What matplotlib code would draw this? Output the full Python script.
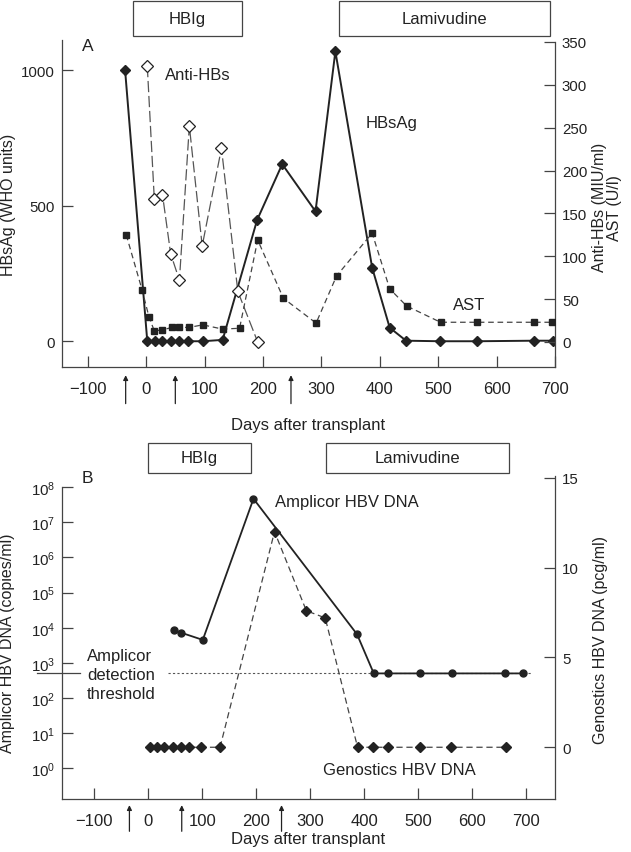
"""Two-panel time course after transplant: HBsAg / anti-HBs / AST and HBV DNA."""

import matplotlib

matplotlib.use("Agg")
import matplotlib.pyplot as plt
import matplotlib.transforms as mtransforms
from matplotlib.patches import Rectangle

plt.rcParams["font.family"] = ["Liberation Sans", "DejaVu Sans"]
plt.rcParams["mathtext.default"] = "regular"

FIG_W, FIG_H = 631, 853
INK = "#222222"
AXIS_GREY = "#444444"

# ---- panel A data (days after transplant) ----
HBSAG_DAYS = [-36, 2, 15, 28, 43, 57, 72, 97, 131, 190, 233, 290, 324, 387, 417, 445, 503, 567, 664, 697]
HBSAG = [1000, 0, 0, 0, 0, 0, 0, 0, 5, 447, 653, 479, 1069, 271, 50, 2, 0, 0, 2, 2]

ANTI_HBS_DAYS = [2, 14, 28, 42, 57, 74, 96, 129, 157, 191]
ANTI_HBS = [322, 167, 172, 103, 72, 252, 112, 226, 59, 0]

AST_DAYS = [-34, -7, 5, 14, 28, 44, 57, 74, 97, 131, 160, 191, 235, 291, 326, 387, 417, 446, 504, 567, 664, 695]
AST = [125, 61, 29, 13, 14, 17, 17, 17, 20, 15, 16, 119, 51, 22, 77, 127, 62, 42, 23, 23, 23, 23]

ARROW_DAYS_A = [-35, 50, 248]

# ---- panel B data ----
AMPLICOR_DAYS = [47, 61, 101, 195, 387, 418, 445, 503, 563, 661, 694]
AMPLICOR = [8.5e3, 7.2e3, 4.5e3, 4.7e7, 6.5e3, 500, 500, 500, 500, 500, 500]
AMPLICOR_THRESHOLD = 500

GENOSTICS_DAYS = [3, 16, 29, 45, 61, 76, 98, 133, 234, 293, 328, 388, 416, 444, 504, 562, 664]
GENOSTICS = [0, 0, 0, 0, 0, 0, 0, 0, 12, 7.6, 7.2, 0, 0, 0, 0, 0, 0]

ARROW_DAYS_B = [-35, 62, 247]

X_TICKS = [-100, 0, 100, 200, 300, 400, 500, 600, 700]
LOG_TICKS = [10.0 ** k for k in range(0, 9)]


def px_rect(left, top, right, bottom):
    """Pixel box (from top-left) -> figure fraction rect."""
    return [left / FIG_W, 1 - bottom / FIG_H, (right - left) / FIG_W, (bottom - top) / FIG_H]


def style_axis(ax, side):
    for name in ("top", "left", "right", "bottom"):
        ax.spines[name].set_color(AXIS_GREY)
        ax.spines[name].set_linewidth(0.9)
    ax.spines["top"].set_visible(False)
    if side == "left":
        ax.spines["right"].set_visible(False)
    else:
        ax.spines["left"].set_visible(False)
        ax.spines["bottom"].set_visible(False)
    ax.tick_params(axis="both", which="major", direction="in", length=8, width=0.9,
                   color=AXIS_GREY, labelcolor=INK)
    ax.tick_params(axis="y", labelsize=10.8, pad=5)
    ax.tick_params(axis="x", labelsize=12, pad=10)
    ax.tick_params(which="minor", length=0)


def add_box(fig, left, top, right, bottom, label):
    x, y, w, h = px_rect(left, top, right, bottom)
    fig.add_artist(Rectangle((x, y), w, h, transform=fig.transFigure, fill=False,
                             edgecolor=AXIS_GREY, linewidth=0.9))
    fig.text(x + w / 2, y + h / 2, label, ha="center", va="center", fontsize=12, color=INK)


def add_arrows(ax, days, y_head, y_tail):
    trans = mtransforms.blended_transform_factory(ax.transData, ax.transAxes)
    for day in days:
        ax.annotate("", xy=(day, y_head), xytext=(day, y_tail), xycoords=trans, textcoords=trans,
                    annotation_clip=False,
                    arrowprops=dict(arrowstyle="-|>", color=INK, lw=0.9,
                                    mutation_scale=7, shrinkA=0, shrinkB=0))


fig = plt.figure(figsize=(FIG_W / 100, FIG_H / 100), dpi=100)

# ================= panel A =================
axA = fig.add_axes(px_rect(62, 41, 555, 368))
axA2 = axA.twinx()

axA.plot(HBSAG_DAYS, HBSAG, color=INK, lw=1.4, marker="D", ms=5.5,
         mfc=INK, mec=INK, zorder=3)
axA2.plot(ANTI_HBS_DAYS, ANTI_HBS, color="#555555", lw=0.9, ls=(0, (9, 3)),
          marker="D", ms=6.5, mfc="white", mec=INK, mew=0.9, zorder=3)
axA2.plot(AST_DAYS, AST, color="#444444", lw=0.9, ls=(0, (4.5, 3)),
          marker="s", ms=5, mfc=INK, mec=INK, zorder=3)

axA.set_xlim(-144, 700)
axA.set_ylim(-95, 1111)
axA.set_xticks(X_TICKS)
axA.set_yticks([0, 500, 1000])
axA2.set_ylim(-29.2, 352.3)
axA2.set_yticks(range(0, 351, 50))
axA.spines["left"].set_bounds(-95, 1111)
axA2.spines["right"].set_bounds(-29.2, 350)
style_axis(axA, "left")
style_axis(axA2, "right")

axA.set_xlabel("Days after transplant", fontsize=12, color=INK)
axA.xaxis.set_label_coords(0.5, -0.153)
axA.set_ylabel("HBsAg (WHO units)", fontsize=11.5, color=INK)
axA.yaxis.set_label_coords(-0.108, 0.5)
axA.yaxis.label.set_va("center")
axA2.set_ylabel("Anti-HBs (MIU/ml)\nAST (U/l)", fontsize=11.5, color=INK, linespacing=1.0)
axA2.yaxis.set_label_coords(1.105, 0.49)
axA2.yaxis.label.set_va("center")

axA.text(0.04, 0.982, "A", transform=axA.transAxes, fontsize=12.5, va="center", color=INK)
axA.text(33, 985, "Anti-HBs", fontsize=12, va="center", color=INK)
axA.text(375, 808, "HBsAg", fontsize=12, va="center", color=INK)
axA2.text(525, 44, "AST", fontsize=12, va="center", color=INK)

add_arrows(axA, ARROW_DAYS_A, -0.025, -0.112)
add_box(fig, 133, 2, 242, 37, "HBIg")
add_box(fig, 338.5, 2, 550, 37, "Lamivudine")

# ================= panel B =================
axB = fig.add_axes(px_rect(62, 477, 555, 800))
axB2 = axB.twinx()

axB.set_yscale("log")
log_bottom, log_top = 10 ** -0.877, 10 ** 8.32
axB.plot(AMPLICOR_DAYS, AMPLICOR, color=INK, lw=1.3, marker="o", ms=5,
         mfc=INK, mec=INK, zorder=3)
axB.axhline(AMPLICOR_THRESHOLD, xmin=0.215, xmax=0.953, color="#555555",
            lw=0.8, ls=(0, (2, 2)), zorder=2)
blend_b = mtransforms.blended_transform_factory(axB.transAxes, axB.transData)
axB.plot([-0.05, 0.037], [AMPLICOR_THRESHOLD, AMPLICOR_THRESHOLD], transform=blend_b,
         color=AXIS_GREY, lw=0.9, clip_on=False)
axB2.plot(GENOSTICS_DAYS, GENOSTICS, color="#444444", lw=0.9, ls=(0, (5, 3)),
          marker="D", ms=5.5, mfc=INK, mec=INK, zorder=3)

axB.set_xlim(-160, 754)
axB.set_ylim(log_bottom, log_top)
axB.set_xticks(X_TICKS)
axB.set_yticks(LOG_TICKS)
axB.yaxis.set_minor_locator(matplotlib.ticker.NullLocator())
axB.spines["left"].set_bounds(log_bottom, 1e8)
axB2.set_ylim(-2.88, 15.1)
axB2.set_yticks([0, 5, 10, 15])
axB2.spines["right"].set_bounds(-2.88, 15.1)
style_axis(axB, "left")
style_axis(axB2, "right")

axB.set_xlabel("Days after transplant", fontsize=12, color=INK)
axB.xaxis.set_label_coords(0.5, -0.1)
axB.set_ylabel("Amplicor HBV DNA (copies/ml)", fontsize=11.5, color=INK)
axB.yaxis.set_label_coords(-0.11, 0.486)
axB.yaxis.label.set_va("center")
axB2.set_ylabel("Genostics HBV DNA (pcg/ml)", fontsize=11.5, color=INK)
axB2.yaxis.set_label_coords(1.093, 0.495)
axB2.yaxis.label.set_va("center")

axB.text(0.04, 0.995, "B", transform=axB.transAxes, fontsize=12.5, va="center", color=INK)
axB.text(235, 3.9e7, "Amplicor HBV DNA", fontsize=12, va="center", color=INK)
axB.text(324, 0.9, "Genostics HBV DNA", fontsize=12, va="center", color=INK)
axB.text(0.051, 470, "Amplicor\ndetection\nthreshold", transform=blend_b, fontsize=12,
         va="center", ha="left", linespacing=1.35, color=INK)

add_arrows(axB, ARROW_DAYS_B, -0.019, -0.1)
add_box(fig, 148, 444, 251, 473.5, "HBIg")
add_box(fig, 326, 444, 509, 474, "Lamivudine")

fig.savefig("out.png", dpi=100, facecolor="white")
